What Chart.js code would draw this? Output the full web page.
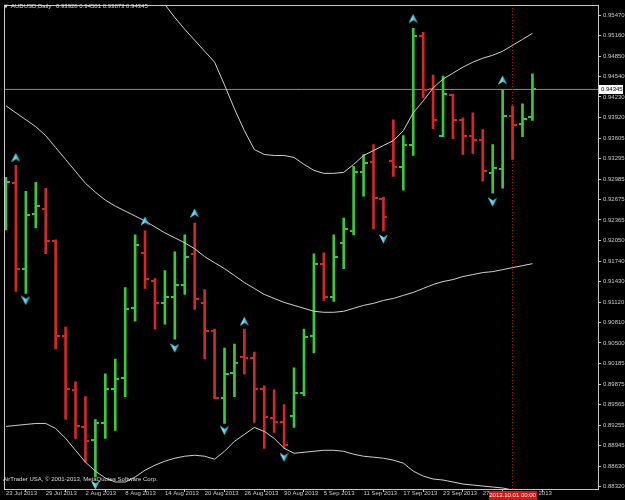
<!DOCTYPE html>
<html>
<head>
<meta charset="utf-8">
<script src="https://cdn.jsdelivr.net/npm/chart.js@4.4.0/dist/chart.umd.min.js"></script>
<style>
html,body{margin:0;padding:0;background:#000;}
canvas{display:block;}
</style>
</head>
<body>
<canvas id="c" width="625" height="500"></canvas>
<script>
// ---------------- DATA ----------------
const symbolTitle = 'AUDUSD,Daily';
const copyrightText = 'AirTrader USA, \u00A9 2001-2013, MetaQuotes Software Corp.';
const dateLabels = ['23 Jul 2013','29 Jul 2013','2 Aug 2013','8 Aug 2013','14 Aug 2013','20 Aug 2013','26 Aug 2013','30 Aug 2013','5 Sep 2013','11 Sep 2013','17 Sep 2013','23 Sep 2013','27 Sep 2013','3 Oct 2013'];
const dateLabelEvery = 4;
const separatorIndex = 51;
const separatorLabel = '2013.10.01 00:00';
const priceTicks = ['0.95470','0.95160','0.94850','0.94540','0.94230','0.93920','0.93605','0.93295','0.92985','0.92675','0.92365','0.92050','0.91740','0.91430','0.91120','0.90810','0.90500','0.90185','0.89875','0.89565','0.89255','0.88945','0.88630','0.88320'];
const priceMin = 0.88285;
const priceMax = 0.95616;

const opens  = [0.92485,0.92921,0.91627,0.92455,0.92530,0.92048,0.90603,0.89790,0.89219,0.89023,
                0.89279,0.89806,0.89971,0.91025,0.91868,0.91446,0.91100,0.91190,0.91386,0.91853,
                0.91100,0.90679,0.89670,0.90046,0.90287,0.90272,0.89806,0.89369,0.89294,0.89399,
                0.89745,0.90603,0.91702,0.91190,0.92018,0.92199,0.93087,0.93238,0.92681,0.93253,
                0.93162,0.93509,0.95149,0.94352,0.93644,0.94261,0.93885,0.93644,0.93584,0.93072,
                0.93132,0.93945,0.93825,0.93928];
const highs  = [0.93012,0.93193,0.92801,0.92937,0.92846,0.92064,0.90739,0.89911,0.89685,0.89339,
                0.90031,0.90257,0.91341,0.92139,0.92199,0.91476,0.91597,0.91883,0.92139,0.92319,
                0.91311,0.90709,0.90423,0.90483,0.90709,0.90363,0.89851,0.89790,0.89565,0.90122,
                0.90709,0.91853,0.91868,0.92139,0.92395,0.93177,0.93358,0.93509,0.92711,0.93885,
                0.93644,0.95270,0.95210,0.94562,0.94547,0.94276,0.93915,0.93990,0.93734,0.93509,
                0.94337,0.94096,0.94126,0.94581];
const lows   = [0.92214,0.91281,0.91251,0.92244,0.91853,0.90408,0.89339,0.89053,0.88692,0.88466,
                0.89053,0.89173,0.89685,0.90829,0.91326,0.90709,0.90784,0.90558,0.91236,0.91010,
                0.90257,0.89655,0.89279,0.89685,0.90031,0.89294,0.88902,0.89143,0.88902,0.89219,
                0.89700,0.90347,0.91145,0.91130,0.91627,0.92139,0.92726,0.92229,0.92199,0.93027,
                0.92816,0.93343,0.94216,0.93749,0.93629,0.93599,0.93358,0.93373,0.92952,0.92771,
                0.92846,0.93283,0.93629,0.93873];
const closes = [0.92937,0.91627,0.92440,0.92575,0.92048,0.90603,0.89806,0.89234,0.89008,0.89279,
                0.89806,0.89956,0.91010,0.91988,0.91476,0.91100,0.91190,0.91386,0.91808,0.91160,
                0.90679,0.89670,0.90031,0.90197,0.90272,0.89806,0.89384,0.89294,0.88948,0.89745,
                0.90588,0.91702,0.91190,0.91808,0.92229,0.93087,0.93223,0.92696,0.92410,0.93162,
                0.93509,0.95149,0.94337,0.93885,0.94276,0.93885,0.93644,0.93584,0.93102,0.93147,
                0.93945,0.93810,0.93900,0.94345];

const bandMiddle = [0.94096,0.93990,0.93885,0.93780,0.93644,0.93463,0.93283,0.93102,0.92921,0.92786,
                    0.92666,0.92575,0.92500,0.92425,0.92349,0.92259,0.92169,0.92094,0.92018,0.91928,
                    0.91808,0.91717,0.91627,0.91522,0.91416,0.91326,0.91236,0.91175,0.91115,0.91070,
                    0.91025,0.90980,0.90965,0.90965,0.90980,0.91025,0.91070,0.91100,0.91145,0.91175,
                    0.91221,0.91266,0.91326,0.91386,0.91431,0.91461,0.91507,0.91537,0.91567,0.91582,
                    0.91612,0.91642,0.91672,0.91702];
const bandUpper  = [0.98958,0.98732,0.98506,0.98280,0.98009,0.97723,0.97513,0.97332,0.97151,0.97016,
                    0.96880,0.96760,0.96610,0.96384,0.96128,0.95872,0.95631,0.95435,0.95255,0.95089,
                    0.94924,0.94758,0.94412,0.94050,0.93719,0.93433,0.93358,0.93343,0.93343,0.93313,
                    0.93208,0.93117,0.93072,0.93072,0.93087,0.93208,0.93343,0.93418,0.93494,0.93569,
                    0.93719,0.93990,0.94171,0.94367,0.94502,0.94592,0.94683,0.94758,0.94818,0.94863,
                    0.94924,0.95014,0.95104,0.95195];
const bandLower  = [0.89234,0.89249,0.89264,0.89279,0.89279,0.89203,0.89053,0.88872,0.88692,0.88556,
                    0.88451,0.88391,0.88391,0.88466,0.88571,0.88646,0.88707,0.88752,0.88782,0.88797,
                    0.88782,0.88737,0.88857,0.89008,0.89113,0.89219,0.89158,0.89053,0.88902,0.88827,
                    0.88842,0.88857,0.88872,0.88872,0.88857,0.88812,0.88782,0.88767,0.88752,0.88722,
                    0.88677,0.88556,0.88481,0.88436,0.88421,0.88391,0.88360,0.88345,0.88330,0.88315,
                    0.88300,0.88270,0.88240,0.88210];

const fractalUpIndex   = [1, 14, 19, 24, 41, 50];
const fractalUpValue   = [0.93313, 0.92349, 0.92470, 0.90829, 0.95420, 0.94487];
const fractalDownIndex = [2, 9, 17, 22, 28, 38, 49];
const fractalDownValue = [0.91145, 0.88345, 0.90423, 0.89173, 0.88767, 0.92079, 0.92636];

// ---------------- STYLE ----------------
const GREEN = '#3cc83c';
const RED = '#d42828';
const FG = '#c8c8c8';
const BAND = '#cfcfcf';
const CYAN = '#34c2d8';
const FONT = 'Liberation Sans';

const n = opens.length;
const last = n - 1;
const idx = opens.map((_, i) => i);
const isUp = i => closes[i] >= opens[i];

function tickImg(color, side) {
  const c = document.createElement('canvas');
  c.width = 8; c.height = 2;
  const g = c.getContext('2d');
  g.fillStyle = color;
  g.fillRect(side === 'L' ? 0 : 5, 0, 3, 2);
  return c;
}
const openG = tickImg(GREEN, 'L'), openR = tickImg(RED, 'L');
const closeG = tickImg(GREEN, 'R'), closeR = tickImg(RED, 'R');

function arrowImg(dir) {
  const c = document.createElement('canvas');
  c.width = 9; c.height = 10;
  const g = c.getContext('2d');
  if (dir === 'down') { g.translate(0, 10); g.scale(1, -1); }
  g.beginPath();
  g.moveTo(4.5, 0.5); g.lineTo(9, 9.5); g.lineTo(4.5, 6.5); g.lineTo(0, 9.5); g.closePath();
  g.fillStyle = CYAN; g.fill();
  g.beginPath();
  g.moveTo(4.5, 0.5); g.lineTo(4.5, 6.5); g.lineTo(0, 9.5); g.closePath();
  g.fillStyle = '#7fdcec'; g.fill();
  return c;
}
const arrowUp = arrowImg('up');
const arrowDown = arrowImg('down');

const overlayPlugin = {
  id: 'mt4overlay',
  beforeDraw(chart) {
    const { ctx, width, height } = chart;
    ctx.save();
    ctx.fillStyle = '#000';
    ctx.fillRect(0, 0, width, height);
    ctx.restore();
  },
  afterDraw(chart) {
    const { ctx, chartArea: a } = chart;
    const xs = chart.scales.x, ys = chart.scales.y;
    ctx.save();
    // frame
    ctx.strokeStyle = FG;
    ctx.lineWidth = 1;
    ctx.strokeRect(Math.round(a.left) - 0.5, Math.round(a.top) - 0.5,
                   Math.round(a.right - a.left) + 1, Math.round(a.bottom - a.top) + 1);
    // title
    ctx.fillStyle = '#dcdcdc';
    ctx.textBaseline = 'middle';
    ctx.font = '5px "DejaVu Sans"';
    ctx.fillText('\u25BC', 4, 6.5);
    ctx.font = '6px "' + FONT + '"';
    const ohlc = [opens[last], highs[last], lows[last], closes[last]].map(v => v.toFixed(5)).join(' ');
    ctx.fillText(symbolTitle, 11, 6.5);
    ctx.fillText(ohlc, 56, 6.5);
    // copyright
    ctx.fillText(copyrightText, 3, 479.5);
    // current price box
    const py = ys.getPixelForValue(closes[last]);
    ctx.fillStyle = '#ffffff';
    ctx.fillRect(a.right + 1, Math.round(py) - 4, 24, 9);
    ctx.fillStyle = '#000000';
    ctx.textAlign = 'left';
    ctx.fillText(closes[last].toFixed(5), a.right + 3, Math.round(py) + 0.5);
    // separator label
    const sx = xs.getPixelForValue(separatorIndex);
    ctx.fillStyle = '#d81414';
    ctx.fillRect(Math.round(sx) - 24, a.bottom + 2, 48, 9);
    ctx.fillStyle = '#ffffff';
    ctx.textAlign = 'center';
    ctx.fillText(separatorLabel, sx, a.bottom + 6.5);
    ctx.restore();
  }
};

const datasets = [
  {
    type: 'line', label: 'price line',
    data: [{ x: -1, y: closes[last] }, { x: n + 10, y: closes[last] }],
    borderColor: '#8c8c8c', borderWidth: 1, pointRadius: 0, order: 10
  },
  {
    type: 'line', label: 'separator',
    data: [{ x: separatorIndex, y: priceMin }, { x: separatorIndex, y: priceMax }],
    borderColor: '#c01818', borderWidth: 1, borderDash: [1, 2], pointRadius: 0, order: 9
  },
  {
    type: 'bar', label: 'high-low',
    data: idx.map(i => ({ x: i, y: [lows[i], highs[i]] })),
    backgroundColor: idx.map(i => isUp(i) ? GREEN : RED),
    borderWidth: 0, barThickness: 2, order: 5
  },
  {
    type: 'line', label: 'open', showLine: false,
    data: idx.map(i => ({ x: i, y: opens[i] })),
    pointStyle: ctx => isUp(ctx.dataIndex) ? openG : openR,
    pointRadius: 2, order: 4
  },
  {
    type: 'line', label: 'close', showLine: false,
    data: idx.map(i => ({ x: i, y: closes[i] })),
    pointStyle: ctx => isUp(ctx.dataIndex) ? closeG : closeR,
    pointRadius: 2, order: 4
  },
  {
    type: 'line', label: 'BB middle',
    data: idx.map(i => ({ x: i, y: bandMiddle[i] })),
    borderColor: BAND, borderWidth: 1, pointRadius: 0, tension: 0, order: 3
  },
  {
    type: 'line', label: 'BB upper',
    data: idx.map(i => ({ x: i, y: bandUpper[i] })),
    borderColor: BAND, borderWidth: 1, pointRadius: 0, tension: 0, order: 3
  },
  {
    type: 'line', label: 'BB lower',
    data: idx.map(i => ({ x: i, y: bandLower[i] })),
    borderColor: BAND, borderWidth: 1, pointRadius: 0, tension: 0, order: 3
  },
  {
    type: 'line', label: 'fractal up', showLine: false,
    data: fractalUpIndex.map((xi, k) => ({ x: xi, y: fractalUpValue[k] })),
    pointStyle: arrowUp, pointRadius: 4, order: 1
  },
  {
    type: 'line', label: 'fractal down', showLine: false,
    data: fractalDownIndex.map((xi, k) => ({ x: xi, y: fractalDownValue[k] })),
    pointStyle: arrowDown, pointRadius: 4, order: 1
  }
];

new Chart(document.getElementById('c'), {
  type: 'bar',
  data: { datasets },
  plugins: [overlayPlugin],
  options: {
    responsive: false,
    animation: false,
    events: [],
    layout: { padding: { left: 1, top: 2, right: 0, bottom: 0 } },
    plugins: { legend: { display: false }, tooltip: { enabled: false }, title: { display: false } },
    scales: {
      x: {
        type: 'linear', position: 'bottom', min: -0.1, max: 59.6, offset: false,
        grid: { display: true, drawOnChartArea: false, drawTicks: true, tickLength: 3, color: FG },
        border: { display: false },
        ticks: {
          autoSkip: false, maxRotation: 0, minRotation: 0, align: 'start', padding: -2,
          color: FG, font: { family: FONT, size: 6 },
          callback: v => dateLabels[Math.round(v / dateLabelEvery)]
        },
        afterBuildTicks: s => { s.ticks = dateLabels.map((_, k) => ({ value: k * dateLabelEvery })); },
        afterFit: s => { s.height = 11; }
      },
      y: {
        type: 'linear', position: 'right', min: priceMin, max: priceMax,
        grid: { display: true, drawOnChartArea: false, drawTicks: true, tickLength: 3, color: FG },
        border: { display: false },
        ticks: {
          padding: 2, color: FG, font: { family: FONT, size: 6 },
          callback: v => v.toFixed(5)
        },
        afterBuildTicks: s => { s.ticks = priceTicks.map(t => ({ value: parseFloat(t) })); },
        afterFit: s => { s.width = 27; }
      }
    }
  }
});
</script>
</body>
</html>
